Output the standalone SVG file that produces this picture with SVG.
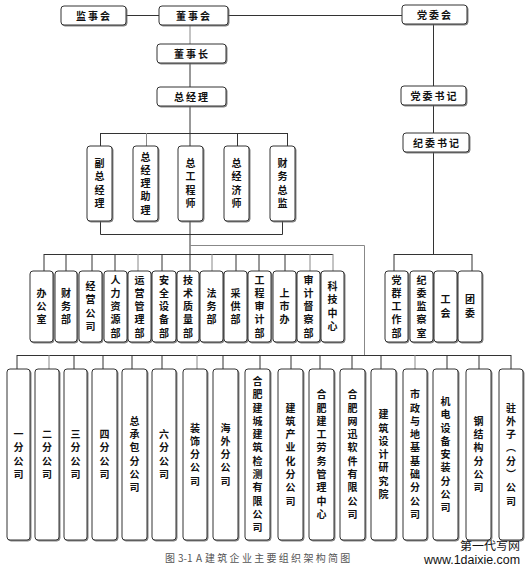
<svg xmlns="http://www.w3.org/2000/svg" width="529" height="573" viewBox="0 0 529 573">
<defs>
<filter id="sh" x="-20%" y="-20%" width="140%" height="140%">
<feDropShadow dx="1" dy="1" stdDeviation="0.4" flood-color="#666" flood-opacity="0.8"/>
</filter>
</defs>
<style>
.b{fill:#fff;stroke:#333;stroke-width:1;filter:url(#sh)}
.t{font-family:"Noto Sans CJK SC","Noto Sans",sans-serif;font-size:10px;font-weight:bold;fill:#111;text-anchor:middle;dominant-baseline:central;letter-spacing:2px}
.v{font-family:"Noto Sans CJK SC","Noto Sans",sans-serif;font-size:10px;font-weight:bold;fill:#111;text-anchor:middle;writing-mode:vertical-rl;letter-spacing:3.3px}
.c{fill:none;stroke:#333;stroke-width:1}
.g{fill:none;stroke:#888;stroke-width:1}
.cap{font-family:"Noto Sans CJK SC","Noto Sans",sans-serif;font-size:10px;fill:#555}
.wm{font-family:"Noto Sans CJK SC","Noto Sans",sans-serif;font-size:11px;fill:#111}
.wm2{font-family:"Liberation Sans",sans-serif;font-size:12px;fill:#111}
</style>
<g id="connectors">
<path class="c" d="M126 15.5H159M228 15.5H402"/>
<path class="g" d="M190 25V44"/>
<path class="c" d="M190 63V87M190 106V133"/>
<path class="c" d="M100.5 133.5H287.5M100.5 133V146M237.5 133V146M287.5 133V146M190 133V146"/>
<path class="g" d="M146.5 133V146"/>
<path class="c" d="M100.5 221V234.5H282.5V221M190 221V271"/>
<path class="g" d="M190 245.5H364.5V355"/>
<path class="c" d="M44 254.5H333M44 254V271M66 254V271M92 254V271M115 254V271M162 254V271M236 254V271M259 254V271M285 254V271"/>
<path class="g" d="M138 254V271M212 254V271M310 254V271M333 254V271"/>
<path class="c" d="M433.5 24V86M433.5 105V133M433.5 152V254M394 254.5H472M394 254V271M472 254V271"/>
<path class="c" d="M17 355.5H511M17 355V369M74 355V369M103 355V369M132 355V369M162 355V369M223 355V369M260 355V369M291 355V369M320 355V369M352 355V369M381 355V369M447 355V369M479 355V369M511 355V369"/>
<path class="g" d="M49 355V369M197 355V369M415 355V369"/>
</g>
<g id="n-jianshihui"><rect class="b" x="61" y="6" width="65" height="19" rx="3"/><text class="t" x="94" y="15.5">监事会</text></g>
<g id="n-dongshihui"><rect class="b" x="159" y="6" width="69" height="19" rx="3"/><text class="t" x="194" y="15.5">董事会</text></g>
<g id="n-dangweihui"><rect class="b" x="402" y="5" width="65" height="19" rx="3"/><text class="t" x="435" y="14.5">党委会</text></g>
<g id="n-dongshizhang"><rect class="b" x="157" y="44" width="69" height="19" rx="3"/><text class="t" x="192" y="53.5">董事长</text></g>
<g id="n-zongjingli"><rect class="b" x="157" y="87" width="69" height="19" rx="3"/><text class="t" x="192" y="96.5">总经理</text></g>
<g id="n-dangweishuji"><rect class="b" x="401" y="86" width="65" height="19" rx="3"/><text class="t" x="434.5" y="95.5">党委书记</text></g>
<g id="n-jiweishuji"><rect class="b" x="403" y="133" width="66" height="19" rx="3"/><text class="t" x="437" y="142.5">纪委书记</text></g>

<g id="n-fuzongjingli"><rect class="b" x="87" y="146" width="25" height="75" rx="3"/><text class="v" x="99.5" y="185">副总经理</text></g>
<g id="n-zongjinglizhuli"><rect class="b" x="133" y="146" width="25" height="75" rx="3"/><text class="v" x="145.5" y="185">总经理助理</text></g>
<g id="n-zonggongchengshi"><rect class="b" x="178" y="146" width="25" height="75" rx="3"/><text class="v" x="190.5" y="185">总工程师</text></g>
<g id="n-zongjingjishi"><rect class="b" x="224" y="146" width="25" height="75" rx="3"/><text class="v" x="236.5" y="185">总经济师</text></g>
<g id="n-caiwuzongjian"><rect class="b" x="270" y="146" width="25" height="75" rx="3"/><text class="v" x="282.5" y="185">财务总监</text></g>

<g id="n-bangongshi"><rect class="b" x="30" y="271" width="23" height="71" rx="3"/><text class="v" x="41.5" y="308">办公室</text></g>
<g id="n-caiwubu"><rect class="b" x="55" y="271" width="22" height="71" rx="3"/><text class="v" x="66" y="308">财务部</text></g>
<g id="n-jingyinggongsi"><rect class="b" x="79" y="271" width="23" height="71" rx="3"/><text class="v" x="90.5" y="308">经营公司</text></g>
<g id="n-renliziyuanbu"><rect class="b" x="104" y="271" width="23" height="71" rx="3"/><text class="v" x="115.5" y="308">人力资源部</text></g>
<g id="n-yunyingguanlibu"><rect class="b" x="128" y="271" width="23" height="71" rx="3"/><text class="v" x="139.5" y="308">运营管理部</text></g>
<g id="n-anquanshebeibu"><rect class="b" x="152" y="271" width="24" height="71" rx="3"/><text class="v" x="164" y="308">安全设备部</text></g>
<g id="n-jishuzhiliangbu"><rect class="b" x="177" y="271" width="22" height="71" rx="3"/><text class="v" x="188" y="308">技术质量部</text></g>
<g id="n-fawubu"><rect class="b" x="200" y="271" width="23" height="71" rx="3"/><text class="v" x="211.5" y="308">法务部</text></g>
<g id="n-caigongbu"><rect class="b" x="224" y="271" width="23" height="71" rx="3"/><text class="v" x="235.5" y="308">采供部</text></g>
<g id="n-gongchengshenjibu"><rect class="b" x="248" y="271" width="23" height="71" rx="3"/><text class="v" x="259.5" y="308">工程审计部</text></g>
<g id="n-shangshiban"><rect class="b" x="273" y="271" width="23" height="71" rx="3"/><text class="v" x="284.5" y="308">上市办</text></g>
<g id="n-shenjiduchabu"><rect class="b" x="297" y="271" width="23" height="71" rx="3"/><text class="v" x="308.5" y="308">审计督察部</text></g>
<g id="n-kejizhongxin"><rect class="b" x="321" y="271" width="23" height="71" rx="3"/><text class="v" x="332.5" y="308">科技中心</text></g>

<g id="n-dangqungongzuobu"><rect class="b" x="385" y="271" width="23" height="71" rx="3"/><text class="v" x="396.5" y="308">党群工作部</text></g>
<g id="n-jiweijianchashi"><rect class="b" x="410" y="271" width="23" height="71" rx="3"/><text class="v" x="421.5" y="308">纪委监察室</text></g>
<g id="n-gonghui"><rect class="b" x="434" y="271" width="23" height="71" rx="3"/><text class="v" x="445.5" y="308">工会</text></g>
<g id="n-tuanwei"><rect class="b" x="458" y="271" width="24" height="71" rx="3"/><text class="v" x="470" y="308">团委</text></g>

<g id="n-b1"><rect class="b" x="7" y="369" width="23" height="171" rx="3"/><text class="v" x="18.5" y="456">一分公司</text></g>
<g id="n-b2"><rect class="b" x="35" y="369" width="24" height="171" rx="3"/><text class="v" x="47" y="456">二分公司</text></g>
<g id="n-b3"><rect class="b" x="64" y="369" width="23" height="171" rx="3"/><text class="v" x="75.5" y="456">三分公司</text></g>
<g id="n-b4"><rect class="b" x="92" y="369" width="25" height="171" rx="3"/><text class="v" x="104.5" y="456">四分公司</text></g>
<g id="n-b5"><rect class="b" x="122" y="369" width="25" height="171" rx="3"/><text class="v" x="134.5" y="456">总承包分公司</text></g>
<g id="n-b6"><rect class="b" x="152" y="369" width="24" height="171" rx="3"/><text class="v" x="164" y="456">六分公司</text></g>
<g id="n-b7"><rect class="b" x="183" y="369" width="24" height="171" rx="3"/><text class="v" x="195" y="456">装饰分公司</text></g>
<g id="n-b8"><rect class="b" x="213" y="369" width="25" height="171" rx="3"/><text class="v" x="225.5" y="456">海外分公司</text></g>
<g id="n-b9"><rect class="b" x="245" y="369" width="25" height="171" rx="3"/><text class="v" x="257.5" y="456">合肥建城建筑检测有限公司</text></g>
<g id="n-b10"><rect class="b" x="278" y="369" width="25" height="171" rx="3"/><text class="v" x="290.5" y="456">建筑产业化分公司</text></g>
<g id="n-b11"><rect class="b" x="309" y="369" width="25" height="171" rx="3"/><text class="v" x="321.5" y="456">合肥建工劳务管理中心</text></g>
<g id="n-b12"><rect class="b" x="340" y="369" width="25" height="171" rx="3"/><text class="v" x="352.5" y="456">合肥网迅软件有限公司</text></g>
<g id="n-b13"><rect class="b" x="371" y="369" width="25" height="171" rx="3"/><text class="v" x="383.5" y="456">建筑设计研究院</text></g>
<g id="n-b14"><rect class="b" x="403" y="369" width="24" height="171" rx="3"/><text class="v" x="415" y="456">市政与地基基础分公司</text></g>
<g id="n-b15"><rect class="b" x="433" y="369" width="25" height="171" rx="3"/><text class="v" x="445.5" y="456">机电设备安装分公司</text></g>
<g id="n-b16"><rect class="b" x="466" y="369" width="25" height="171" rx="3"/><text class="v" x="478.5" y="456">钢结构分公司</text></g>
<g id="n-b17"><rect class="b" x="499" y="369" width="24" height="171" rx="3"/><text class="v" x="511" y="456">驻外子（分）公司</text></g>

<text class="cap" y="562"><tspan x="165">图</tspan><tspan x="178">3-1</tspan><tspan x="196">A</tspan><tspan x="205" letter-spacing="2.3">建筑企业主要组织架构简图</tspan></text>
<text class="wm" x="460" y="550" textLength="60" lengthAdjust="spacingAndGlyphs">第一代写网</text>
<text class="wm2" x="424" y="564" textLength="96" lengthAdjust="spacingAndGlyphs">www.1daixie.com</text>
</svg>
